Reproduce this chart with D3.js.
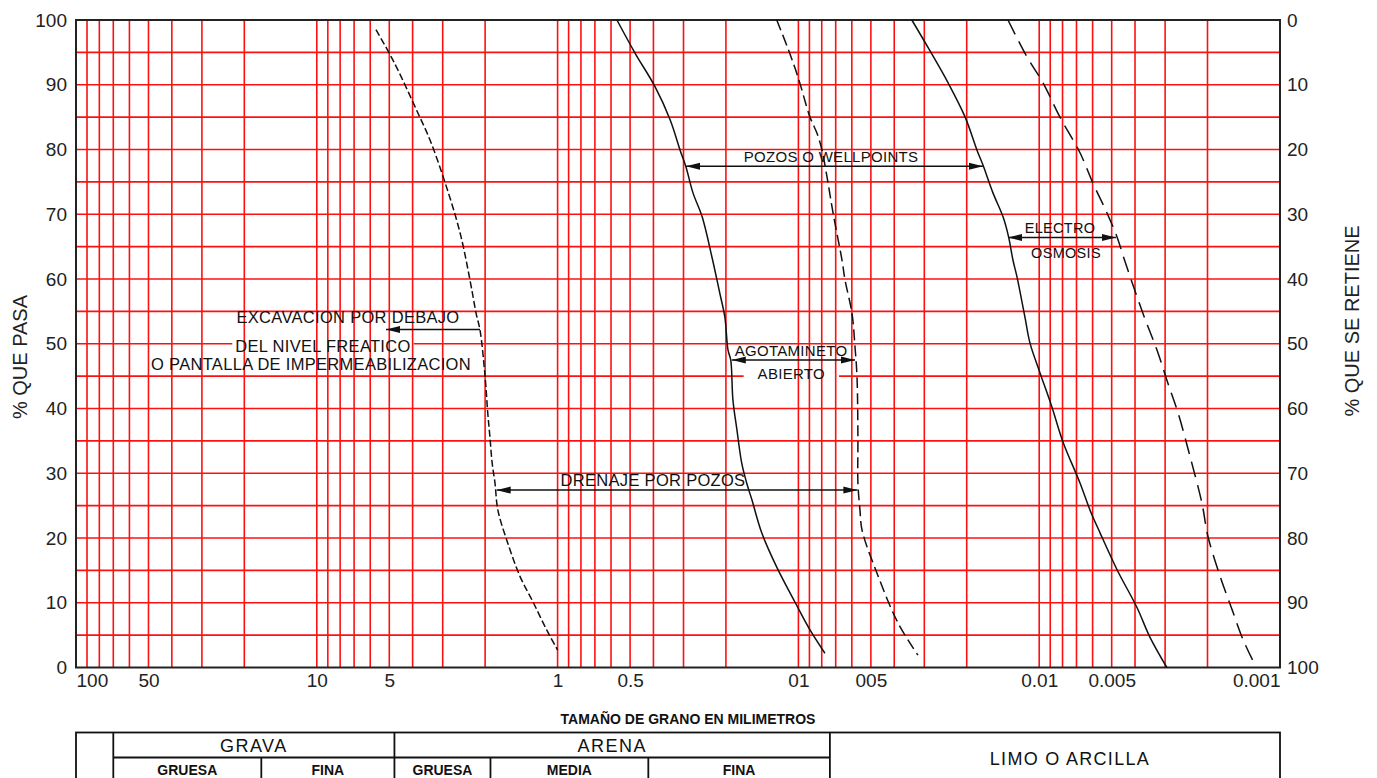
<!DOCTYPE html>
<html>
<head>
<meta charset="utf-8">
<title>Métodos de drenaje según granulometría</title>
<script src="https://cdn.jsdelivr.net/npm/d3@7"></script>
<style>
  body { margin: 0; background: #fff; }
  svg { display: block; font-family: "Liberation Sans", Arial, Helvetica, sans-serif; }
</style>
</head>
<body>
<script>

// grain size (mm) vs % passing
var curve1 = [[5.68,98.5],[4.78,93.5],[3.80,85.6],[3.39,81.5],[2.91,74.5],[2.54,67.1],[2.31,59.8],[2.18,54.7],[2.10,52.1],[2.00,44.9],[1.95,39.3],[1.91,35.6],[1.87,31.6],[1.82,28.5],[1.77,24.3],[1.61,19.2],[1.43,14.0],[1.26,10.0],[1.11,5.8],[1.00,2.7]];
var curve2 = [[0.567,100],[0.477,94.9],[0.394,89.7],[0.341,84.6],[0.310,79.9],[0.293,77.3],[0.274,73.3],[0.251,69.6],[0.228,63.2],[0.212,57.8],[0.202,54.1],[0.196,49.0],[0.191,47.5],[0.187,41.3],[0.180,36.7],[0.172,31.6],[0.164,28.5],[0.156,25.9],[0.142,20.8],[0.123,15.5],[0.103,10.0],[0.0895,5.8],[0.0776,2.2]];
var curve3 = [[0.123,100],[0.110,95.4],[0.1004,91.2],[0.0895,85.0],[0.0837,82.5],[0.0798,79.9],[0.0761,75.8],[0.0718,70.2],[0.0659,62.9],[0.0640,59.8],[0.0599,54.7],[0.0582,49.5],[0.0571,44.9],[0.0566,35.6],[0.0566,28.5],[0.0555,24.3],[0.0544,21.2],[0.0472,14.6],[0.0386,6.9],[0.0319,1.9]];
var curve4 = [[0.0338,100],[0.0290,95.8],[0.0239,90.3],[0.0203,85.0],[0.01813,79.9],[0.01712,77.6],[0.01556,73.3],[0.01413,69.6],[0.01340,66.5],[0.01285,62.9],[0.01236,60.3],[0.01146,54.1],[0.01092,50.1],[0.00992,45.5],[0.00885,40.2],[0.00796,34.8],[0.00677,28.5],[0.00615,24.3],[0.00559,20.8],[0.00475,15.1],[0.00393,9.3],[0.00347,4.7],[0.00295,0]];
var curve5 = [[0.01348,100],[0.01124,94.3],[0.00964,90.3],[0.00820,85.0],[0.00677,79.5],[0.00598,74.8],[0.00523,70.2],[0.00475,66.5],[0.00442,62.9],[0.00371,54.7],[0.00324,49.0],[0.00292,43.9],[0.00265,39.3],[0.00236,32.5],[0.00211,25.4],[0.00199,20.2],[0.00177,14.0],[0.00158,8.9],[0.00142,4.2],[0.00127,0.4]];

// axis ticks
var xTickValues = [100, 50, 10, 5, 1, 0.5, 0.1, 0.05, 0.01, 0.005, 0.001];
var xTickLabels = ["100", "50", "10", "5", "1", "0.5", "01", "005", "0.01", "0.005", "0.001"];
var yTickValues = [0, 10, 20, 30, 40, 50, 60, 70, 80, 90, 100];

// arrows: from / to grain size (mm), at % passing
var arrows = [
  {from: 0.293, to: 0.01712, at: 77.4, both: true},
  {from: 0.01348, to: 0.0048, at: 66.4, both: true},
  {from: 0.189, to: 0.0582, at: 47.5, both: true},
  {from: 1.79, to: 0.0569, at: 27.4, both: true},
  {from: 2.10, to: 5.16, at: 52.2, both: false}
];

// labels: centre grain size (mm), baseline % passing
var notes = [
  {text: "POZOS O WELLPOINTS", mm: 0.0732, at: 78.1, size: 15},
  {text: "ELECTRO", mm: 0.0082, at: 67.1, size: 14.5},
  {text: "OSMOSIS", mm: 0.00774, at: 63.2, size: 14.5},
  {text: "AGOTAMINETO", mm: 0.1073, at: 48.1, size: 15},
  {text: "ABIERTO", mm: 0.107, at: 44.6, size: 15, pad: 14},
  {text: "DRENAJE POR POZOS", mm: 0.4016, at: 28.0, size: 16.5},
  {text: "EXCAVACION POR DEBAJO", mm: 7.42, at: 53.2, size: 16.5},
  {text: "DEL NIVEL FREATICO", mm: 9.43, at: 48.7, size: 16.5, pad: 3},
  {text: "O PANTALLA DE IMPERMEABILIZACION", mm: 10.57, at: 45.9, size: 16.5}
];

// soil classification table (limits in mm)
var soilMain = ["GRAVA", "ARENA"];
var soilMainLimits = [[70, 4.76], [4.76, 0.074]];
var soilSub = ["GRUESA", "FINA", "GRUESA", "MEDIA", "FINA"];
var soilSubLimits = [[70, 17], [17, 4.76], [4.76, 1.9], [1.9, 0.42], [0.42, 0.074]];
var soilFine = "LIMO O ARCILLA";

var W = 1377, H = 778;
var pLeft = 76, pRight = 1280, pTop = 20, pBottom = 667.5;

var svg = d3.select("body").append("svg")
    .attr("width", W)
    .attr("height", H);

svg.append("rect").attr("width", W).attr("height", H).attr("fill", "#fff");

var x = d3.scaleLog().domain([100, 0.001]).range([pLeft, pRight]);
var y = d3.scaleLinear().domain([0, 100]).range([pBottom, pTop]);
var yRet = d3.scaleLinear().domain([0, 100]).range([pTop, pBottom]);

// horizontal grid
var gridH = svg.append("g");
gridH.selectAll("line")
    .data(d3.range(5, 100, 5))
    .enter().append("line")
    .attr("x1", pLeft).attr("x2", pRight)
    .attr("y1", function(d) { return y(d); })
    .attr("y2", function(d) { return y(d); })
    .attr("stroke", "#ff1010")
    .attr("stroke-width", 1.6);

// white boxes behind some labels (they break the horizontal lines)
var masks = svg.append("g");

// vertical grid
svg.append("g").selectAll("line")
    .data(x.ticks().filter(function(d) { return d < 99 && d > 0.00101; }))
    .enter().append("line")
    .attr("x1", function(d) { return x(d); })
    .attr("x2", function(d) { return x(d); })
    .attr("y1", pTop).attr("y2", pBottom)
    .attr("stroke", "#ff1010")
    .attr("stroke-width", 1.6);

// frame
svg.append("rect")
    .attr("x", pLeft).attr("y", pTop)
    .attr("width", pRight - pLeft).attr("height", pBottom - pTop)
    .attr("fill", "none")
    .attr("stroke", "#222")
    .attr("stroke-width", 2);

// axes
var gx = svg.append("g")
    .attr("transform", "translate(0," + pBottom + ")")
    .call(d3.axisBottom(x).tickValues(xTickValues)
      .tickFormat(function(d, i) { return xTickLabels[i]; })
      .tickSize(0).tickPadding(6));
gx.selectAll("text").filter(function(d, i) { return i === 0; }).attr("text-anchor", "start");
gx.selectAll("text").filter(function(d, i) { return i === xTickValues.length - 1; }).attr("text-anchor", "end");

var gy = svg.append("g")
    .attr("transform", "translate(" + pLeft + ",0)")
    .call(d3.axisLeft(y).tickValues(yTickValues).tickSize(0).tickPadding(9));

var gy2 = svg.append("g")
    .attr("transform", "translate(" + pRight + ",0)")
    .call(d3.axisRight(yRet).tickValues(yTickValues).tickSize(0).tickPadding(7));

[gx, gy, gy2].forEach(function(g) {
  g.select(".domain").remove();
  g.selectAll("text")
    .style("font-family", "Liberation Sans, Arial, sans-serif")
    .style("font-size", "19px")
    .attr("fill", "#222");
});

// axis titles
svg.append("text")
    .attr("transform", "translate(20,357) rotate(-90)")
    .attr("text-anchor", "middle")
    .attr("dominant-baseline", "central")
    .style("font-size", "20px")
    .attr("fill", "#222")
    .text("% QUE PASA");

svg.append("text")
    .attr("transform", "translate(1352,321) rotate(-90)")
    .attr("text-anchor", "middle")
    .attr("dominant-baseline", "central")
    .style("font-size", "20px")
    .attr("fill", "#222")
    .text("% QUE SE RETIENE");

svg.append("text")
    .attr("x", 688).attr("y", 724)
    .attr("text-anchor", "middle")
    .style("font-size", "14px")
    .style("font-weight", "bold")
    .attr("fill", "#111")
    .text("TAMAÑO DE GRANO EN MILIMETROS");

// curves
var line = d3.line()
    .x(function(d) { return x(d[0]); })
    .y(function(d) { return y(d[1]); })
    .curve(d3.curveCatmullRom.alpha(0.5));

var curves = [curve1, curve2, curve3, curve4, curve5];
var dashes = ["7,3", null, "11,5", null, "16,8"];

svg.append("g").selectAll("path")
    .data(curves)
    .enter().append("path")
    .attr("d", line)
    .attr("fill", "none")
    .attr("stroke", "#111")
    .attr("stroke-width", 1.5)
    .attr("stroke-dasharray", function(d, i) { return dashes[i]; });

// arrows
svg.append("defs").append("marker")
    .attr("id", "head")
    .attr("markerUnits", "userSpaceOnUse")
    .attr("viewBox", "0 -4 14 8")
    .attr("refX", 14).attr("refY", 0)
    .attr("markerWidth", 14).attr("markerHeight", 8)
    .attr("orient", "auto-start-reverse")
  .append("path")
    .attr("d", "M0,-3.5L14,0L0,3.5Z")
    .attr("fill", "#111");

svg.append("g").selectAll("line")
    .data(arrows)
    .enter().append("line")
    .attr("x1", function(d) { return x(d.from); })
    .attr("x2", function(d) { return x(d.to); })
    .attr("y1", function(d) { return y(d.at); })
    .attr("y2", function(d) { return y(d.at); })
    .attr("stroke", "#111")
    .attr("stroke-width", 1.5)
    .attr("marker-end", "url(#head)")
    .attr("marker-start", function(d) { return d.both ? "url(#head)" : null; });

// labels
var labels = svg.append("g").selectAll("text")
    .data(notes)
    .enter().append("text")
    .attr("x", function(d) { return x(d.mm); })
    .attr("y", function(d) { return y(d.at); })
    .attr("text-anchor", "middle")
    .style("font-size", function(d) { return d.size + "px"; })
    .style("letter-spacing", "0.3px")
    .attr("fill", "#111")
    .text(function(d) { return d.text; });

labels.filter(function(d) { return d.pad; }).each(function(d) {
  var b = this.getBBox();
  masks.append("rect")
    .attr("x", b.x - d.pad).attr("y", b.y)
    .attr("width", b.width + 2 * d.pad).attr("height", b.height)
    .attr("fill", "#fff");
});

// classification table
var t0 = 732.5, t1 = 757.5, t2 = 795;
var table = svg.append("g")
    .attr("stroke", "#111")
    .attr("stroke-width", 1.8)
    .attr("fill", "none");

table.append("rect")
    .attr("x", pLeft).attr("y", t0)
    .attr("width", pRight - pLeft).attr("height", t2 - t0);

table.append("line")
    .attr("x1", x(soilMainLimits[0][0])).attr("x2", x(soilMainLimits[1][1]))
    .attr("y1", t1).attr("y2", t1);

table.selectAll(".full")
    .data([soilMainLimits[0][0], soilMainLimits[0][1], soilMainLimits[1][1]])
    .enter().append("line")
    .attr("x1", function(d) { return x(d); })
    .attr("x2", function(d) { return x(d); })
    .attr("y1", t0).attr("y2", t2);

table.selectAll(".sub")
    .data([soilSubLimits[0][1], soilSubLimits[2][1], soilSubLimits[3][1]])
    .enter().append("line")
    .attr("x1", function(d) { return x(d); })
    .attr("x2", function(d) { return x(d); })
    .attr("y1", t1).attr("y2", t2);

function mid(a, b) { return (x(a) + x(b)) / 2; }

svg.append("g").selectAll("text")
    .data(soilMain)
    .enter().append("text")
    .attr("x", function(d, i) { return mid(soilMainLimits[i][0], soilMainLimits[i][1]); })
    .attr("y", 752)
    .attr("text-anchor", "middle")
    .style("font-size", "18px")
    .style("letter-spacing", "1.5px")
    .attr("fill", "#111")
    .text(function(d) { return d; });

svg.append("g").selectAll("text")
    .data(soilSub)
    .enter().append("text")
    .attr("x", function(d, i) { return mid(soilSubLimits[i][0], soilSubLimits[i][1]); })
    .attr("y", 774.5)
    .attr("text-anchor", "middle")
    .style("font-size", "14px")
    .style("font-weight", "bold")
    .attr("fill", "#111")
    .text(function(d) { return d; });

svg.append("text")
    .attr("x", mid(soilMainLimits[1][1], 0.001) + 15)
    .attr("y", 765)
    .attr("text-anchor", "middle")
    .style("font-size", "18px")
    .style("letter-spacing", "1.3px")
    .attr("fill", "#111")
    .text(soilFine);

</script>
</body>
</html>
